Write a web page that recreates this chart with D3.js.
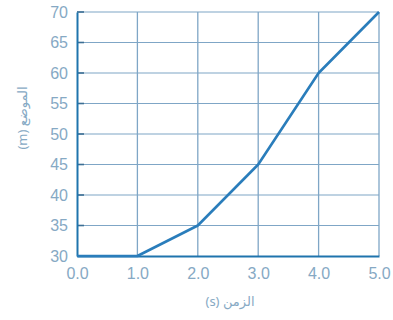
<!DOCTYPE html>
<html lang="ar">
<head>
    <meta charset="utf-8">
    <title>Position vs time</title>
    <script src="https://d3js.org/d3.v7.min.js"></script>
    <style>
        body { margin: 0; background: #fff; }
        .tick text { font-family: "Liberation Sans", Arial, sans-serif; }
    </style>
</head>
<body>
<script>
    // data
    var times = [0, 1, 2, 3, 4, 5];
    var positions = [30, 30, 35, 45, 60, 70];
    var xTicks = [0, 1, 2, 3, 4, 5];
    var yTicks = [30, 35, 40, 45, 50, 55, 60, 65, 70];
    var xTitle = "(s) الزمن";
    var yTitle = "(m) الموضع";

    var width = 393, height = 320;
    var margin = {top: 12, right: 14, bottom: 64, left: 77};

    var svg = d3.select("body").append("svg")
        .attr("width", width)
        .attr("height", height);

    var x = d3.scaleLinear().domain([0, 5]).range([margin.left, width - margin.right]);
    var y = d3.scaleLinear().domain([30, 70]).range([height - margin.bottom, margin.top]);

    var gridColor = "#7fa6c6";
    var labelColor = "#86a9c4";

    // vertical grid lines
    svg.append("g")
        .selectAll("line")
        .data(xTicks.slice(1))
        .join("line")
        .attr("x1", d => x(d)).attr("x2", d => x(d))
        .attr("y1", y(70)).attr("y2", y(30))
        .attr("stroke", gridColor)
        .attr("stroke-width", 1.3);

    // horizontal grid lines
    svg.append("g")
        .selectAll("line")
        .data(yTicks.slice(1))
        .join("line")
        .attr("x1", x(0)).attr("x2", x(5))
        .attr("y1", d => y(d)).attr("y2", d => y(d))
        .attr("stroke", gridColor)
        .attr("stroke-width", 1.1);

    // small darker stubs at left
    svg.append("g")
        .selectAll("line")
        .data(yTicks.slice(1))
        .join("line")
        .attr("x1", x(0)).attr("x2", x(0) + 7)
        .attr("y1", d => y(d)).attr("y2", d => y(d))
        .attr("stroke", "#3c6f94")
        .attr("stroke-width", 1.6);

    // axes
    var yAxis = svg.append("g")
        .attr("transform", "translate(" + x(0) + ",0)")
        .call(d3.axisLeft(y).tickValues(yTicks).tickSize(0).tickPadding(9));
    var xAxis = svg.append("g")
        .attr("transform", "translate(0," + y(30) + ")")
        .call(d3.axisBottom(x).tickValues(xTicks).tickSize(0).tickPadding(12).tickFormat(d3.format(".1f")));

    [xAxis, yAxis].forEach(function(a) {
        a.select(".domain").attr("stroke", "#1f74ad").attr("stroke-width", 2);
        a.selectAll("text").attr("fill", labelColor).style("font-size", "16px");
    });

    // line
    var line = d3.line()
        .x(function(d, i) { return x(times[i]); })
        .y(function(d) { return y(d); });

    svg.append("path")
        .datum(positions)
        .attr("d", line)
        .attr("fill", "none")
        .attr("stroke", "#2a7dbb")
        .attr("stroke-width", 2.6)
        .attr("stroke-linejoin", "round");

    // titles
    svg.append("text")
        .attr("x", 230).attr("y", 306)
        .attr("text-anchor", "middle")
        .attr("fill", labelColor)
        .style("font-family", "'Noto Sans', 'DejaVu Sans', sans-serif")
        .style("font-size", "13px")
        .text(xTitle);

    svg.append("text")
        .attr("transform", "translate(27,118) rotate(-90)")
        .attr("text-anchor", "middle")
        .attr("fill", labelColor)
        .style("font-family", "'Noto Sans', 'DejaVu Sans', sans-serif")
        .style("font-size", "13px")
        .text(yTitle);
</script>
</body>
</html>
